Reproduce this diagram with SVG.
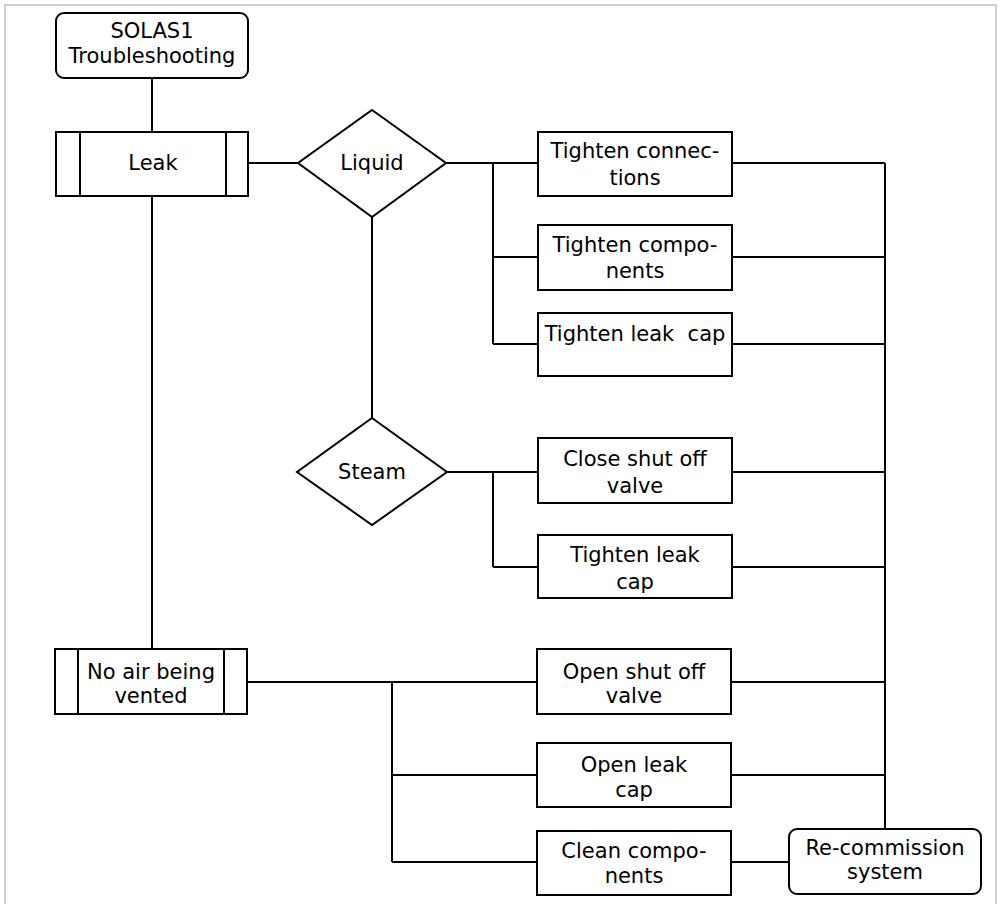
<svg xmlns="http://www.w3.org/2000/svg" width="1000" height="904" viewBox="0 0 1000 904">
<style>
.n{fill:#fff;stroke:#000;stroke-width:2}
.c{fill:none;stroke:#000;stroke-width:2}
.t{font-family:"DejaVu Sans",Verdana,sans-serif;font-size:21px;fill:#000;text-anchor:middle;white-space:pre}
</style>
<rect x="5" y="5" width="991" height="910" fill="#fff" stroke="#d0d0d0" stroke-width="2"/>
<g id="connectors">
<path class="c" d="M152 78V132M152 196V649M248 163H298M372 217V418"/>
<path class="c" d="M446 163H493M493 163V344M493 163H538M493 257H538M493 344H538"/>
<path class="c" d="M447 472H493M493 472V567M493 472H538M493 567H538"/>
<path class="c" d="M247 682H392M392 682V862M392 682H537M392 775H537M392 862H537"/>
<path class="c" d="M732 163H885M732 257H885M732 344H885M732 472H885M732 567H885M731 682H885M731 775H885M885 163V829"/>
<path class="c" d="M731 862H789"/>
</g>
<g id="start"><rect class="n" x="56" y="13" width="192" height="65" rx="8"/><text class="t" x="152" y="38">SOLAS1</text><text class="t" x="152" y="63">Troubleshooting</text></g>
<g id="leak"><rect class="n" x="56" y="132" width="192" height="64"/><path class="c" d="M80 132V196M226 132V196"/><text class="t" x="153" y="170">Leak</text></g>
<g id="liquid"><polygon class="n" points="372,110 446,163 372,217 298,163"/><text class="t" x="372" y="170">Liquid</text></g>
<g id="tighten-connections"><rect class="n" x="538" y="132" width="194" height="64"/><text class="t" x="635" y="158">Tighten connec-</text><text class="t" x="635" y="185">tions</text></g>
<g id="tighten-components"><rect class="n" x="538" y="225" width="194" height="65"/><text class="t" x="635" y="252">Tighten compo-</text><text class="t" x="635" y="278">nents</text></g>
<g id="tighten-leak-cap-1"><rect class="n" x="538" y="313" width="194" height="63"/><text class="t" x="635" y="341">Tighten leak  cap</text></g>
<g id="steam"><polygon class="n" points="372,418 447,472 372,525 297,472"/><text class="t" x="372" y="479">Steam</text></g>
<g id="close-shut-off-valve"><rect class="n" x="538" y="438" width="194" height="65"/><text class="t" x="635" y="466">Close shut off</text><text class="t" x="635" y="493">valve</text></g>
<g id="tighten-leak-cap-2"><rect class="n" x="538" y="535" width="194" height="63"/><text class="t" x="635" y="562">Tighten leak</text><text class="t" x="635" y="589">cap</text></g>
<g id="no-air"><rect class="n" x="55" y="649" width="192" height="65"/><path class="c" d="M78 649V714M224 649V714"/><text class="t" x="151" y="679">No air being</text><text class="t" x="151" y="703">vented</text></g>
<g id="open-shut-off-valve"><rect class="n" x="537" y="649" width="194" height="65"/><text class="t" x="634" y="679">Open shut off</text><text class="t" x="634" y="703">valve</text></g>
<g id="open-leak-cap"><rect class="n" x="537" y="743" width="194" height="64"/><text class="t" x="634" y="772">Open leak</text><text class="t" x="634" y="797">cap</text></g>
<g id="clean-components"><rect class="n" x="537" y="831" width="194" height="64"/><text class="t" x="634" y="858">Clean compo-</text><text class="t" x="634" y="883">nents</text></g>
<g id="recommission"><rect class="n" x="789" y="829" width="192" height="65" rx="8"/><text class="t" x="885" y="855">Re-commission</text><text class="t" x="885" y="879">system</text></g>
</svg>
